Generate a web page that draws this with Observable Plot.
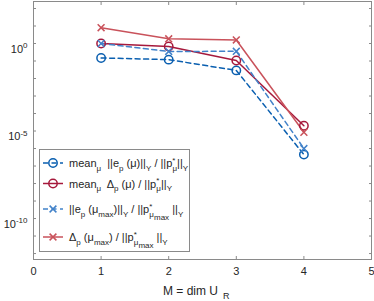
<!DOCTYPE html>
<html><head><meta charset="utf-8">
<script src="https://cdn.jsdelivr.net/npm/d3@7"></script>
<script src="https://cdn.jsdelivr.net/npm/@observablehq/plot@0.6"></script>
<style>body{margin:0;background:#fff} svg{display:block}</style>
</head><body><div id="chart"></div>
<script>
// ---- data ----
const M = [1, 2, 3, 4];
const meanErr = [0.15, 0.12, 0.029, 4.5e-7];   // mean_mu ||e_p(mu)||_Y / ||p*_mu||_Y
const meanEst = [1.0, 0.68, 0.107, 2.0e-5];    // mean_mu Delta_p(mu) / ||p*_mu||_Y
const maxErr  = [1.0, 0.35, 0.36, 1.0e-6];    // ||e_p(mu_max)||_Y / ||p*_mu_max||_Y
const maxEst  = [8.0, 1.86, 1.6, 8.5e-6];     // Delta_p(mu_max) / ||p*_mu_max||_Y
const xTicks = [0, 1, 2, 3, 4, 5];
const yLabelTicks = [1e0, 1e-5, 1e-10];
const yMinorTicks = [1e2, 1e1, 1e0, 1e-1, 1e-2, 1e-3, 1e-4, 1e-5, 1e-6, 1e-7, 1e-8, 1e-9, 1e-10, 1e-11, 1e-12];
const xLabel = "M = dim U";
const xLabelSub = "R";

const series = [
  {key: "meanErr", values: meanErr, color: "#0a5fb0", dash: "5,3.5", symbol: "circle",
   label: [["mean",0],["μ",1],["  ||e",0],["p",1],[" (μ)||",0],["Y",1],[" / ||p",0],["*",-1],["μ",1,-3],["||",0],["Y",1]]},
  {key: "meanEst", values: meanEst, color: "#a6193c", dash: null, symbol: "circle",
   label: [["mean",0],["μ",1],["  Δ",0],["p",1],[" (μ) / ||p",0],["*",-1],["μ",1,-3],["||",0],["Y",1]]},
  {key: "maxErr", values: maxErr, color: "#4282c9", dash: "5,3.5", symbol: "times",
   label: [["||e",0],["p",1],[" (μ",0],["max",1],[")||",0],["Y",1],[" / ||p",0],["*",-1],["μ",1,-3],["max",2],[" ||",0],["Y",1]]},
  {key: "maxEst", values: maxEst, color: "#c9525b", dash: null, symbol: "times",
   label: [["Δ",0],["p",1],[" (μ",0],["max",1],[") / ||p",0],["*",-1],["μ",1,-3],["max",2],[" ||",0],["Y",1]]}
];

const rows = series.flatMap(s => M.map((m, i) => ({key: s.key, M: m, v: s.values[i]})));
const frameColor = "#8a8a8a";
const textColor = "#262626";
const font = "Liberation Sans, Arial, Helvetica, sans-serif";

const marks = [Plot.frame({stroke: frameColor})];
for (const s of series) {
  const d = rows.filter(r => r.key === s.key);
  marks.push(Plot.line(d, {x: "M", y: "v", stroke: s.color, strokeWidth: 1.5, strokeDasharray: s.dash}));
}
for (const s of series) {
  const d = rows.filter(r => r.key === s.key);
  marks.push(Plot.dot(d, {x: "M", y: "v", stroke: s.color, strokeWidth: 1.5, fill: "none",
    symbol: s.symbol, r: s.symbol === "circle" ? 4.2 : 3.2}));
}
marks.push(
  Plot.axisY({anchor: "left", ticks: yMinorTicks, tickSize: -3, fill: "none", label: null, stroke: frameColor}),
  Plot.axisY({anchor: "right", ticks: yMinorTicks, tickSize: -3, fill: "none", label: null, stroke: frameColor}),
  Plot.axisY({anchor: "left", ticks: yLabelTicks, tickSize: 0, tickPadding: 6, label: null, fontSize: 11,
    fill: textColor, tickFormat: d => String(Math.round(Math.log10(d)))}),
  Plot.axisX({anchor: "bottom", ticks: xTicks, tickSize: -3, fill: "none", label: null, stroke: frameColor}),
  Plot.axisX({anchor: "top", ticks: xTicks, tickSize: -3, fill: "none", label: null, stroke: frameColor}),
  Plot.axisX({anchor: "bottom", ticks: xTicks, tickSize: 0, tickPadding: 8, label: null, fontSize: 11,
    fill: textColor, tickFormat: d => String(d)})
);

const chart = Plot.plot({
  width: 374, height: 301,
  marginLeft: 33, marginRight: 3, marginTop: 1, marginBottom: 42,
  style: {fontFamily: font, background: "#fff", color: textColor},
  x: {domain: [0, 5]},
  y: {type: "log", domain: [Math.pow(10, -12.34), Math.pow(10, 2.4)]},
  marks
});
document.getElementById("chart").appendChild(chart);

const svg = d3.select(chart);

// superscript y tick labels: 10^k
svg.selectAll('g[aria-label="y-axis tick label"] text').each(function() {
  const t = d3.select(this);
  const e = t.text();
  t.text(null).attr("dy", "0.5em");
  t.append("tspan").text("10");
  t.append("tspan").attr("dy", "-0.55em").attr("font-size", "8px").text(e);
});

// legend
const lg = svg.append("g").attr("font-family", font).attr("fill", textColor).attr("text-anchor", "start");
lg.append("rect").attr("x", 39.5).attr("y", 149.5).attr("width", 150).attr("height", 102)
  .attr("fill", "#fff").attr("stroke", frameColor);
const rowY = [163, 183.5, 209, 237];
const offs = {"-1": -4.5, "0": 0, "1": 3.5, "2": 7};
series.forEach((s, i) => {
  const y = rowY[i];
  lg.append("line").attr("x1", 43).attr("x2", 63).attr("y1", y).attr("y2", y)
    .attr("stroke", s.color).attr("stroke-width", 1.5).attr("stroke-dasharray", s.dash);
  if (s.symbol === "circle") {
    lg.append("circle").attr("cx", 53).attr("cy", y).attr("r", 4.2)
      .attr("fill", "none").attr("stroke", s.color).attr("stroke-width", 1.5);
  } else {
    lg.append("path").attr("d", `M49.6,${y-3.4}L56.4,${y+3.4}M49.6,${y+3.4}L56.4,${y-3.4}`)
      .attr("stroke", s.color).attr("stroke-width", 1.5).attr("fill", "none");
  }
  const txt = lg.append("text").attr("x", 69).attr("y", y + 4).attr("font-size", 11)
    .attr("text-anchor", "start").attr("xml:space", "preserve").style("white-space", "pre");
  let cur = 0;
  for (const [str, lvl, dx] of s.label) {
    const target = offs[String(lvl)];
    const ts = txt.append("tspan").attr("dy", target - cur).text(str);
    if (lvl !== 0) ts.attr("font-size", 8);
    if (dx) ts.attr("dx", dx);
    cur = target;
  }
});

// x label with subscript
const xl = svg.append("text").attr("x", 163).attr("y", 295).attr("font-family", font)
  .attr("font-size", 12).attr("fill", textColor).attr("text-anchor", "start");
xl.append("tspan").text(xLabel);
xl.append("tspan").attr("dx", 5).attr("dy", 4).attr("font-size", 9).text(xLabelSub);
</script>
</body></html>
